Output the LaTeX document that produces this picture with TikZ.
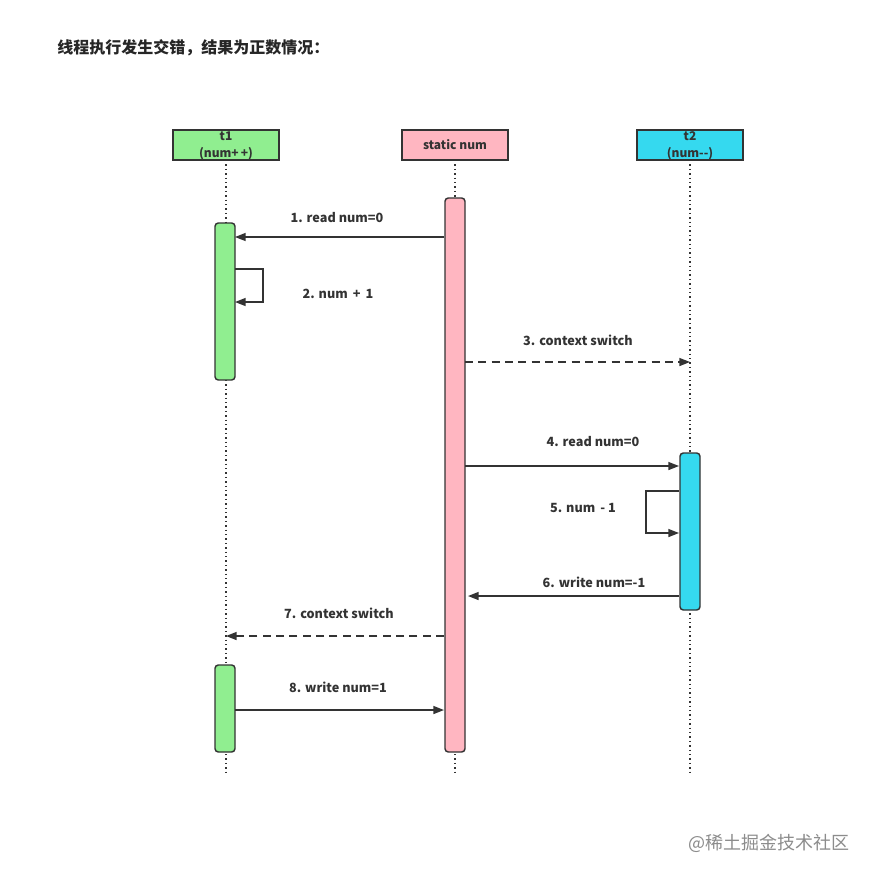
\documentclass[tikz,border=0pt]{standalone}
\usepackage{fontspec}
\setmainfont{Noto Sans}
\newfontfamily\cjk{Noto Sans CJK SC}
\usetikzlibrary{arrows.meta}
\definecolor{lineC}{HTML}{333333}
\definecolor{greenC}{HTML}{90EE90}
\definecolor{pinkC}{HTML}{FFB6C1}
\definecolor{cyanC}{HTML}{35D9EF}
\begin{document}
\begin{tikzpicture}[x=0.75pt,y=-0.75pt,
  head/.style={draw=lineC,line width=1.3pt,minimum width=79.5pt,minimum height=22.5pt,inner sep=0pt,font=\cjk\bfseries\fontsize{9}{10.5}\selectfont,text=lineC,align=center},
  act/.style={draw=lineC,line width=1.1pt,rounded corners=2.5pt,minimum width=15pt,inner sep=0pt},
  life/.style={draw=lineC,line width=1.1pt,dash pattern=on 1.1pt off 2.2pt},
  msg/.style={draw=lineC,line width=1.1pt,-{Triangle[length=8pt,width=6pt]}},
  dmsg/.style={msg,dash pattern=on 6pt off 4pt},
  lbl/.style={font=\cjk\bfseries\fontsize{9.5}{10}\selectfont,text=lineC,inner sep=0pt}]
\useasboundingbox (0,0) rectangle (875,878);
\fill[white] (0,0) rectangle (875,878);
% title
\node[anchor=west,font=\cjk\bfseries\fontsize{12}{13}\selectfont,text=black!85,inner sep=0pt] (title) at (57,48) {线程执行发生交错，结果为正数情况：};
% lifelines
\draw[life] (226,160) -- (226,775);
\draw[life] (455,160) -- (455,775);
\draw[life] (690,160) -- (690,775);
% headers
\node[head,fill=greenC] (t1) at (226,145) {};
\node[head,fill=pinkC] (sn) at (455,145) {static num};
\node[head,fill=cyanC] (t2) at (690,145) {};
\node[font=\cjk\bfseries\fontsize{9}{10}\selectfont,text=lineC,inner sep=0pt] (t1a) at (226,136) {t1};
\node[font=\cjk\bfseries\fontsize{9}{10}\selectfont,text=lineC,inner sep=0pt] (t1b) at (226,153.5) {(num+\,+)};
\node[font=\cjk\bfseries\fontsize{9}{10}\selectfont,text=lineC,inner sep=0pt] (t2a) at (690,136) {t2};
\node[font=\cjk\bfseries\fontsize{9}{10}\selectfont,text=lineC,inner sep=0pt] (t2b) at (690,153.5) {(num-{}-)};
% activations
\node[act,fill=pinkC,minimum height=415.5pt] (as) at (455,475) {};
\node[act,fill=greenC,minimum height=117.75pt] (a1) at (225,301.5) {};
\node[act,fill=cyanC,minimum height=117.75pt] (a2) at (690,531.5) {};
\node[act,fill=greenC,minimum height=65.25pt] (a3) at (225,708.5) {};
% message 1
\coordinate (m1s) at (444,237); \coordinate (m1e) at (235,237);
\draw[msg] (m1s) -- (m1e);
\node[lbl] (l1) at (337,218) {1. read num=0};
% self 2
\coordinate (m2s) at (235,269); \coordinate (m2a) at (263,269); \coordinate (m2b) at (263,302); \coordinate (m2e) at (235,302);
\draw[msg] (m2s) -- (m2a) -- (m2b) -- (m2e);
\node[lbl] (l2) at (338,294) {2. num \,+\, 1};
% message 3
\coordinate (m3s) at (465,362); \coordinate (m3e) at (690,362);
\draw[dmsg] (m3s) -- (m3e);
\node[lbl] (l3) at (578,340) {3. context switch};
% message 4
\coordinate (m4s) at (465,466); \coordinate (m4e) at (679,466);
\draw[msg] (m4s) -- (m4e);
\node[lbl] (l4) at (593,442) {4. read num=0};
% self 5
\coordinate (m5s) at (679,491); \coordinate (m5a) at (646,491); \coordinate (m5b) at (646,533); \coordinate (m5e) at (679,533);
\draw[msg] (m5s) -- (m5a) -- (m5b) -- (m5e);
\node[lbl] (l5) at (583,508) {5. num \,- 1};
% message 6
\coordinate (m6s) at (679,596); \coordinate (m6e) at (468,596);
\draw[msg] (m6s) -- (m6e);
\node[lbl] (l6) at (594,582) {6. write num=-1};
% message 7
\coordinate (m7s) at (444,636); \coordinate (m7e) at (226,636);
\draw[dmsg] (m7s) -- (m7e);
\node[lbl] (l7) at (339,613) {7. context switch};
% message 8
\coordinate (m8s) at (235,710); \coordinate (m8e) at (444,710);
\draw[msg] (m8s) -- (m8e);
\node[lbl] (l8) at (338,687) {8. write num=1};
% watermark
\node[anchor=east,font=\cjk\fontsize{13.5}{14}\selectfont,text=black!45,inner sep=0pt] (wm) at (850,843) {@稀土掘金技术社区};
\end{tikzpicture}
\end{document}
